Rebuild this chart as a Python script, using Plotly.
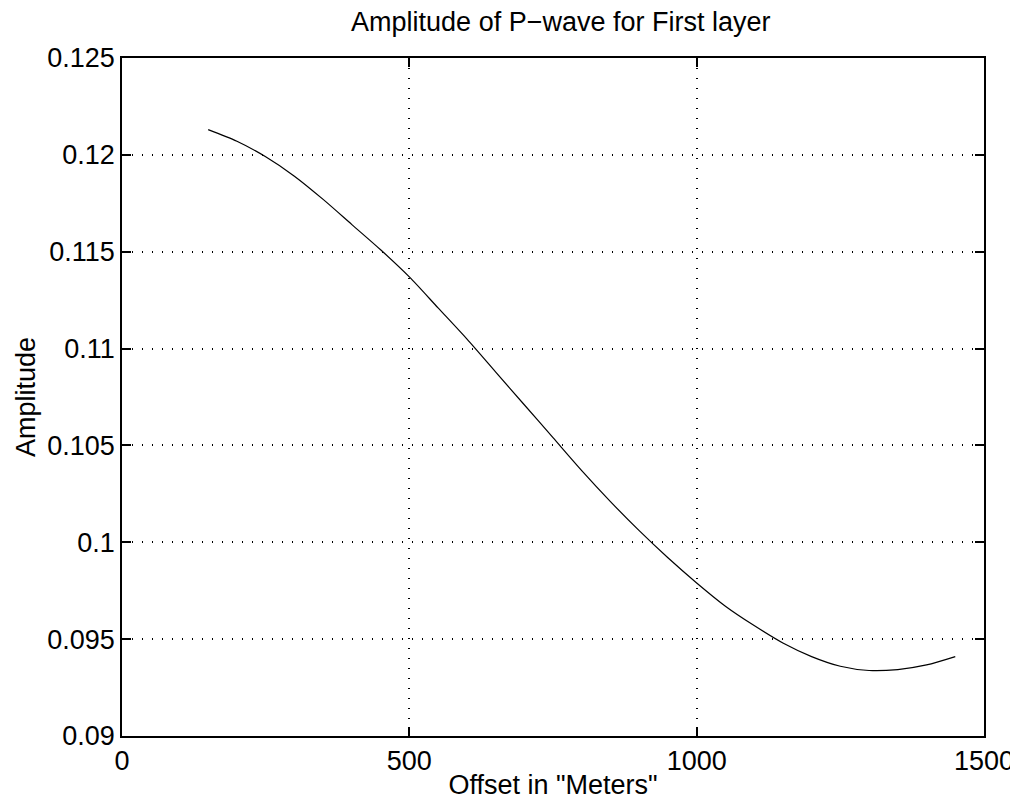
import plotly.graph_objects as go

offset = [150, 200, 250, 300, 350, 400, 450, 500, 550, 600, 650, 700, 750, 800,
          850, 900, 950, 1000, 1050, 1100, 1150, 1200, 1250, 1300, 1350, 1400, 1450]
amplitude = [0.1213, 0.1207, 0.1199, 0.1189, 0.1177, 0.1164, 0.1151, 0.1137, 0.1121,
             0.1105, 0.1088, 0.1071, 0.1054, 0.1037, 0.1021, 0.1006, 0.0992, 0.0979,
             0.0967, 0.0957, 0.0948, 0.0941, 0.0936, 0.09338, 0.09343, 0.09367, 0.0941]

x_ticks = [0, 500, 1000, 1500]
y_ticks = [0.09, 0.095, 0.1, 0.105, 0.11, 0.115, 0.12, 0.125]
y_tick_text = ["0.09", "0.095", "0.1", "0.105", "0.11", "0.115", "0.12", "0.125"]

fig = go.Figure()
fig.add_trace(go.Scatter(x=offset, y=amplitude, mode="lines",
                         line=dict(color="black", width=1.2, shape="spline", smoothing=0.8),
                         showlegend=False))

font = dict(family="Liberation Sans, Arial, sans-serif", size=27, color="black")

axis_common = dict(
    showline=True, linecolor="black", linewidth=1.5, mirror="ticks",
    ticks="inside", ticklen=9, tickcolor="black", tickwidth=1.5,
    showgrid=True, gridcolor="black", griddash="1px,9px", gridwidth=1.5,
    zeroline=False, tickfont=font,
)

fig.update_layout(
    width=1018, height=799,
    margin=dict(l=114, r=40, t=50, b=70),
    paper_bgcolor="white", plot_bgcolor="white",
    font=font,
    title=dict(text="Amplitude of P\u2212wave for First layer", x=0.543, xanchor="center",
               y=0.983, yanchor="middle", font=font),
    xaxis=dict(range=[0, 1500], tickvals=x_ticks, ticktext=[str(v) for v in x_ticks],
               title=dict(text='Offset in "Meters"', font=font, standoff=0),
               **axis_common),
    yaxis=dict(range=[0.09, 0.125], tickvals=y_ticks, ticktext=y_tick_text,
               title=dict(text="Amplitude", font=font, standoff=4),
               **axis_common),
)

fig.write_html("out.html")
